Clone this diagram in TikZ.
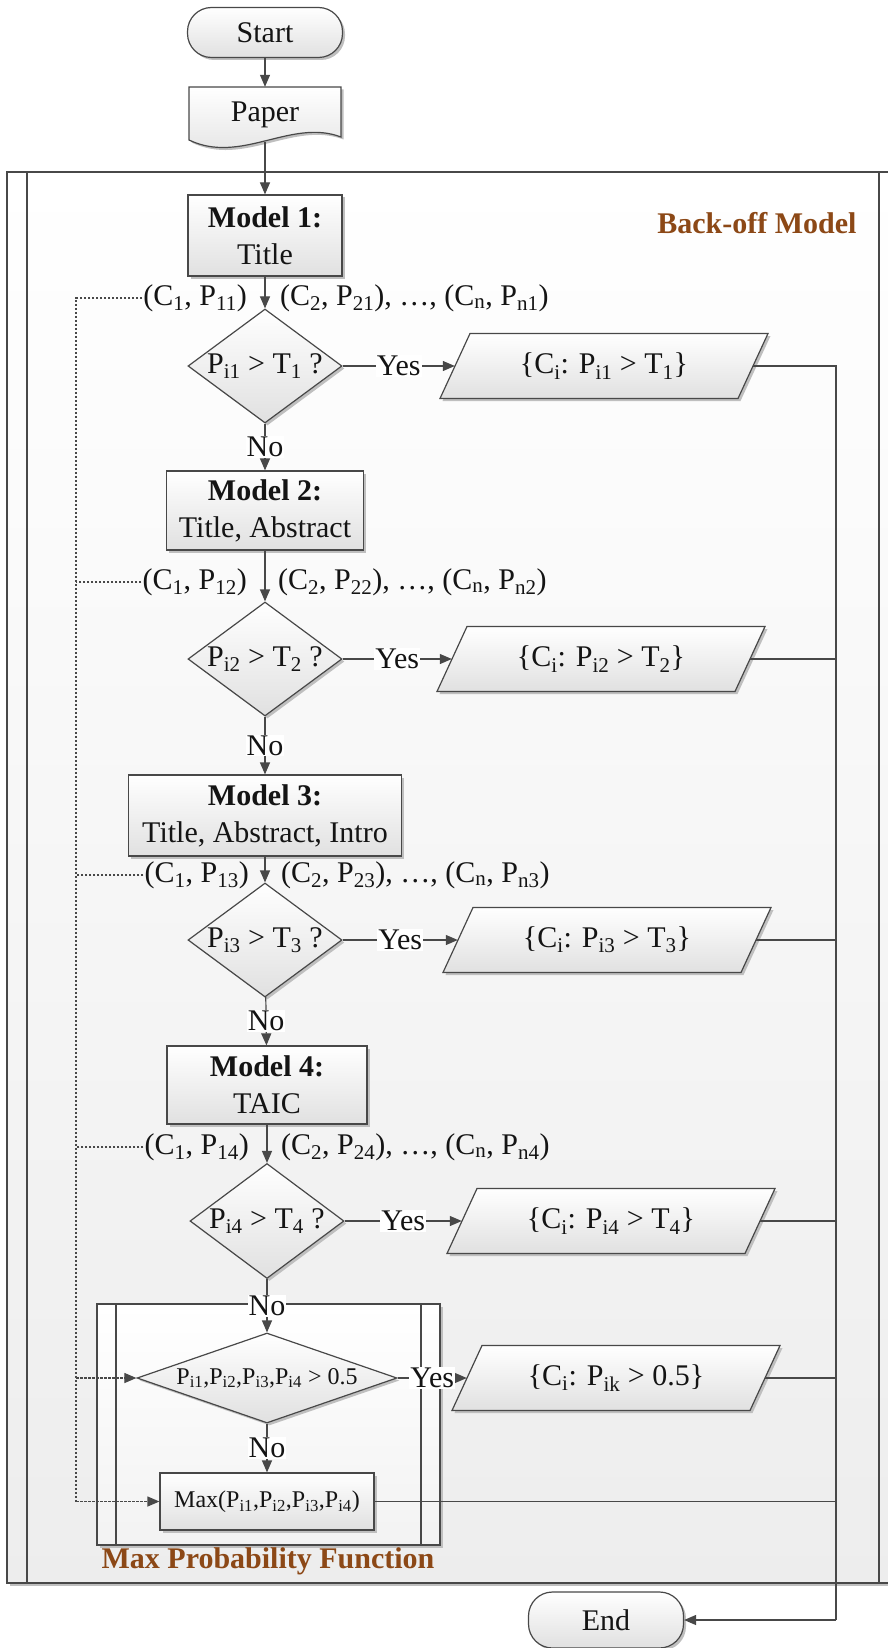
\documentclass[tikz,border=0pt]{standalone}
\usepackage{fontspec}
\setmainfont{Liberation Serif}
\usetikzlibrary{arrows.meta,shapes.geometric,shadows}
\definecolor{ln}{RGB}{72,72,72}
\definecolor{brn}{RGB}{140,72,22}
\definecolor{txt}{RGB}{20,20,20}
\newcommand{\lo}[1]{\textsubscript{#1}}
\newcommand{\paraback}[2]{\path[boxfill,shd] ({#1-134},{#2-32.5}) -- ++(298,0) -- ++(-30,65) -- ++(-298,0) -- cycle;}
\begin{document}
\begin{tikzpicture}[x=1pt,y=-1pt,
  every node/.style={font=\fontsize{30}{37}\selectfont, text=txt},
  shd/.style={drop shadow={shadow xshift=2.5pt,shadow yshift=-2.5pt,fill=black!25,opacity=1}},
  boxfill/.style={top color=white,bottom color=black!12,draw=ln,line width=1.2pt},
  proc/.style={rectangle,boxfill,shd,inner sep=0pt,align=center},
  dia/.style={diamond,boxfill,shd,inner sep=0pt},
  term/.style={rectangle,rounded corners=24pt,boxfill,shd,minimum width=155pt,minimum height=50pt},
  para/.style={inner sep=0pt,minimum width=298pt,minimum height=65pt},
  lbl/.style={inner sep=1pt},
  yn/.style={fill=white,inner sep=1pt},
  conn/.style={draw=ln,line width=1.2pt},
  arr/.style={conn,-{Triangle[length=12pt,width=10pt]}},
  dsh/.style={draw=ln,line width=1.2pt,dash pattern=on 2.5pt off 1.5pt},
  darr/.style={dsh,-{Triangle[length=12pt,width=10pt]}},
  frame/.style={draw=ln,line width=1.3pt},
  ttl/.style={font=\bfseries\fontsize{30}{36}\selectfont,text=brn},
]
\useasboundingbox (0,0) rectangle (887,1648);
% outer frame
\path[frame,top color=white,bottom color=black!7,shd] (7,172) rectangle (900,1583);
\draw[frame] (27,172) -- (27,1583);
\draw[frame] (879,172) -- (879,1583);
\node[ttl,anchor=east] (bomt) at (860,223) {Back-off Model};
% inner frame
\path[frame,top color=white,bottom color=black!5,shd] (97,1304) rectangle (440,1545);
\draw[frame] (116,1304) -- (116,1545);
\draw[frame] (421,1304) -- (421,1545);
\node[ttl] (mpft) at (268,1561) {Max Probability Function};
% start / paper
\node[term] (start) at (265,32.5) {Start};
\path[boxfill,shd] (189,87) -- (341,87) -- (341,137) .. controls (291,118) and (241,165) .. (189,140) -- cycle;
\node[inner sep=0pt,minimum width=152pt,minimum height=55pt] (paper) at (265,114.5) {\raisebox{4pt}{Paper}};
% row 1
\node[proc,minimum width=154pt,minimum height=81pt] (m1) at (265,235.5) {\textbf{Model 1:}\\Title};
\node[lbl,anchor=east] (l1a) at (248,298) {(C\lo{1}, P\lo{11})};
\node[lbl,anchor=west] (l1b) at (279,298) {(C\lo{2}, P\lo{21}), …, (C\lo{n}, P\lo{n1})};
\node[dia,minimum width=154pt,minimum height=114pt] (d1) at (265,366) {\makebox[0pt]{P\lo{i1} > T\lo{1} ?}};
\paraback{604}{366}
\node[para] (o1) at (604,366) {\{C\lo{i}: P\lo{i1} > T\lo{1}\}};
% row 2
\node[proc,minimum width=197pt,minimum height=79pt] (m2) at (265,510.5) {\textbf{Model 2:}\\Title, Abstract};
\node[lbl,anchor=east] (l2a) at (248,582) {(C\lo{1}, P\lo{12})};
\node[lbl,anchor=west] (l2b) at (277,582) {(C\lo{2}, P\lo{22}), …, (C\lo{n}, P\lo{n2})};
\node[dia,minimum width=154pt,minimum height=114pt] (d2) at (265,659) {\makebox[0pt]{P\lo{i2} > T\lo{2} ?}};
\paraback{601}{659}
\node[para] (o2) at (601,659) {\{C\lo{i}: P\lo{i2} > T\lo{2}\}};
% row 3
\node[proc,minimum width=273pt,minimum height=81pt] (m3) at (265,815.5) {\textbf{Model 3:}\\Title, Abstract, Intro};
\node[lbl,anchor=east] (l3a) at (250,875) {(C\lo{1}, P\lo{13})};
\node[lbl,anchor=west] (l3b) at (280,875) {(C\lo{2}, P\lo{23}), …, (C\lo{n}, P\lo{n3})};
\node[dia,minimum width=154pt,minimum height=114pt] (d3) at (265,940) {\makebox[0pt]{P\lo{i3} > T\lo{3} ?}};
\paraback{607}{940}
\node[para] (o3) at (607,940) {\{C\lo{i}: P\lo{i3} > T\lo{3}\}};
% row 4
\node[proc,minimum width=200pt,minimum height=78pt] (m4) at (267,1085) {\textbf{Model 4:}\\TAIC};
\node[lbl,anchor=east] (l4a) at (250,1147) {(C\lo{1}, P\lo{14})};
\node[lbl,anchor=west] (l4b) at (280,1147) {(C\lo{2}, P\lo{24}), …, (C\lo{n}, P\lo{n4})};
\node[dia,minimum width=154pt,minimum height=115pt] (d4) at (267,1221) {\makebox[0pt]{P\lo{i4} > T\lo{4} ?}};
\paraback{611}{1221}
\node[para] (o4) at (611,1221) {\{C\lo{i}: P\lo{i4} > T\lo{4}\}};
% row 5
\node[dia,minimum width=260pt,minimum height=90pt] (d5) at (267,1378) {\makebox[0pt]{\fontsize{24}{28}\selectfont P\lo{i1},P\lo{i2},P\lo{i3},P\lo{i4} > 0.5}};
\paraback{616}{1378}
\node[para] (o5) at (616,1378) {\{C\lo{i}: P\lo{ik} > 0.5\}};
\node[proc,minimum width=214pt,minimum height=57pt,font=\fontsize{24}{28}\selectfont] (mx) at (267,1501.5) {Max(P\lo{i1},P\lo{i2},P\lo{i3},P\lo{i4})};
% end
\node[term,minimum height=56pt] (end) at (606,1620) {End};
\coordinate (cend) at (836,1620);
\coordinate (dtop) at (76,298);
\coordinate (dd5) at (76,1378);
\coordinate (dmx) at (76,1501.5);
% main flow
\draw[arr] (start) -- (paper);
\draw[arr] (paper.south) -- (m1);
\draw[arr] (m1) -- (d1);
\draw[arr] (d1) -- node[yn] (n1) {No} (m2);
\draw[arr] (m2) -- (d2);
\draw[arr] (d2) -- node[yn] (n2) {No} (m3);
\draw[arr] (m3) -- (d3);
\draw[arr] (d3) -- node[yn] (n3) {No} (m4);
\draw[arr] (m4) -- (d4);
\draw[arr] (d4) -- node[yn] (n4) {No} (d5);
\draw[arr] (d5) -- node[yn] (n5) {No} (mx);
% yes branches
\draw[arr] (d1) -- node[yn] (y1) {Yes} (o1);
\draw[arr] (d2) -- node[yn] (y2) {Yes} (o2);
\draw[arr] (d3) -- node[yn] (y3) {Yes} (o3);
\draw[arr] (d4) -- node[yn] (y4) {Yes} (o4);
\draw[arr] (d5) -- node[yn] (y5) {Yes} (o5);
% collector
\draw[conn] (o1.east) -| (cend);
\draw[arr] (cend) -- (end);
\draw[conn] (o2.east) -- (o2.east -| cend);
\draw[conn] (o3.east) -- (o3.east -| cend);
\draw[conn] (o4.east) -- (o4.east -| cend);
\draw[conn] (o5.east) -- (o5.east -| cend);
\draw[conn] (mx.east) -- (mx.east -| cend);
% dashed feeds
\draw[dsh] (l1a.west) -- (dtop) -- (dmx);
\draw[dsh] (l2a.west) -- (l2a.west -| dtop);
\draw[dsh] (l3a.west) -- (l3a.west -| dtop);
\draw[dsh] (l4a.west) -- (l4a.west -| dtop);
\draw[darr] (dd5) -- (d5);
\draw[darr] (dmx) -- (mx);
\end{tikzpicture}
\end{document}
